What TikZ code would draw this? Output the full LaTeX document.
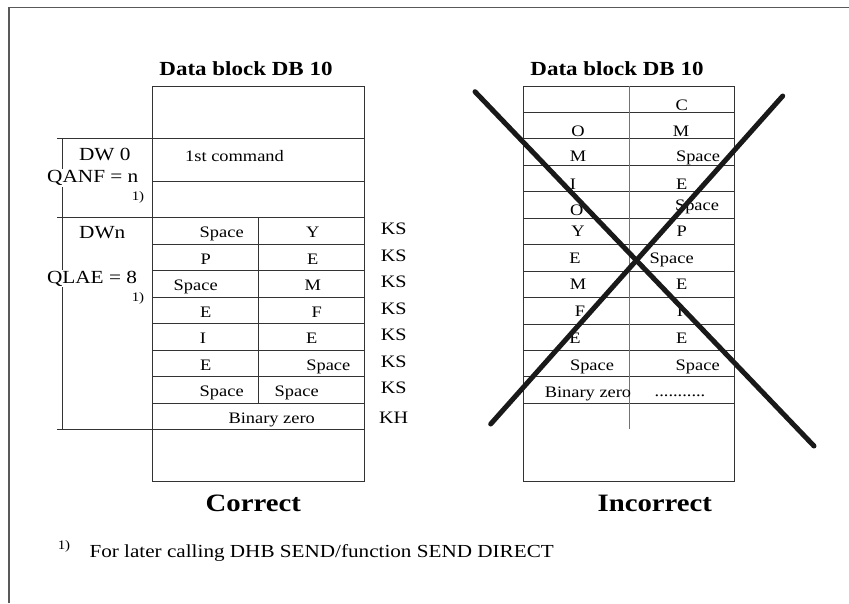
\documentclass[tikz,border=0pt]{standalone}
\usepackage{fontspec}
\setmainfont{Liberation Serif}[FakeStretch=1.15]
\definecolor{rule}{HTML}{333333}

\tikzset{
  cell/.style={font=\fontsize{16}{19}\selectfont, anchor=base, inner sep=0pt},
  tag/.style={font=\fontsize{17.5}{21}\selectfont, anchor=base, inner sep=0pt},
  side/.style={font=\fontsize{18.5}{22}\selectfont, anchor=base, inner sep=1pt, fill=white},
  fnref/.style={font=\fontsize{13}{15}\selectfont, anchor=base, inner sep=0pt},
  heading/.style={font=\bfseries\fontsize{20}{24}\selectfont, anchor=base, inner sep=0pt},
  verdict/.style={font=\bfseries\fontsize{25}{30}\selectfont, anchor=base, inner sep=0pt},
  grid line/.style={draw=rule, line width=0.9pt},
  frame/.style={draw=black!65, line width=1.5pt},
  cross/.style={draw=black!90, line width=5pt, line cap=round},
}

\begin{document}
\begin{tikzpicture}[x=1pt, y=-1pt]
\useasboundingbox (0,0) rectangle (849,603);

% page frame (cut off right and bottom)
\draw[frame] (9,603) -- (9,7.3) -- (849,7.3);

% ---- left block: correct ----
\node[heading] (titleL) at (246,75) {Data block DB 10};
\draw[grid line] (152.7,86.5) rectangle (364,481.5);
\draw[grid line] (57.3,138) -- (364,138);
\draw[grid line] (152.7,181) -- (364,181);
\draw[grid line] (57.3,217.5) -- (364,217.5);
\foreach \k in {1,...,7}
  \draw[grid line] (152.7,217.5+26.5*\k) -- (364,217.5+26.5*\k);
\draw[grid line] (57.3,429.5) -- (364,429.5);
\draw[grid line] (258.3,217.5) -- (258.3,403);
\draw[grid line] (62.7,138) -- (62.7,429.5);

\node[side] (dw0) at (104.7,160.7) {DW 0};
\node[side] (qanf) at (92.8,182.7) {QANF = n};
\node[fnref] (ref1) at (138,200) {1)};
\node[side] (dwn) at (102.2,238.3) {DWn};
\node[side] (qlae) at (92,283.3) {QLAE = 8};
\node[fnref] (ref2) at (138,301.7) {1)};

\node[cell] (cmd) at (234.5,161.7) {1st command};
\foreach \a/\xa/\b/\xb [count=\i from 0] in
  {Space/221.7/Y/312.7, P/205.7/E/312.7, Space/195.7/M/312.7,
   E/205.7/F/316.7, I/203/E/311.7, E/205.7/Space/328.3,
   Space/221.7/Space/296.7}
{
  \node[cell] (l\i a) at (\xa,237.5+26.5*\i) {\a};
  \node[cell] (l\i b) at (\xb,237.5+26.5*\i) {\b};
  \node[tag] (ks\i) at (393.7,234.5+26.5*\i) {KS};
}
\node[cell] (zeroL) at (271.7,423) {Binary zero};
\node[tag] (kh) at (393.7,423.3) {KH};

\node[verdict] (ok) at (253.3,511.7) {Correct};

% ---- right block: incorrect ----
\node[heading] (titleR) at (617,75) {Data block DB 10};
\draw[grid line] (523.3,86) rectangle (734.3,481.5);
\foreach \k in {1,...,12}
  \draw[grid line] (523.3,86+26.44*\k) -- (734.3,86+26.44*\k);
\draw[draw=black!55, line width=0.9pt] (629,86) -- (629,429.3);

\foreach \a/\xa/\ya/\b/\xb/\yb [count=\i from 0] in
  {/578/110/C/681.7/110, O/578/136/M/681/136,
   M/578/161.7/Space/698/161.7, I/573/189.3/E/681.7/189.3,
   O/576.7/215/Space/697/210, Y/578/236.7/P/681.7/236.7,
   E/575/263.3/Space/671.7/263.3, M/578/289.3/E/681.7/289.3,
   F/580/316.7/I/680/316.7, E/575/343.3/E/681.7/343.3,
   Space/592/370/Space/697.7/370}
{
  \node[cell] (r\i a) at (\xa,\ya) {\a};
  \node[cell] (r\i b) at (\xb,\yb) {\b};
}
\node[cell] (zeroR) at (588,397.3) {Binary zero};
\node[cell] (dots) at (680,396.7) {...........};

\coordinate (xa1) at (475,91.7);
\coordinate (xa2) at (814,446);
\coordinate (xb1) at (782.7,96);
\coordinate (xb2) at (490.7,424);
\draw[cross] (xa1) -- (xa2);
\draw[cross] (xb1) -- (xb2);

\node[verdict] (bad) at (654.8,511.7) {Incorrect};

% footnote
\node[fnref] (fnmark) at (64,549) {1)};
\node[side, inner sep=0pt, anchor=base west, font=\fontsize{18.4}{22}\selectfont]
  (fntext) at (89.3,557) {For later calling DHB SEND/function SEND DIRECT};
\end{tikzpicture}
\end{document}
